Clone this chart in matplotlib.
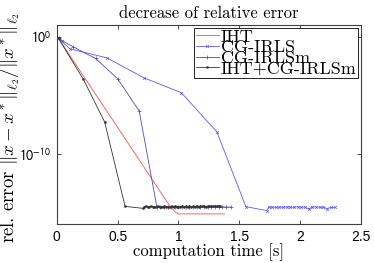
import matplotlib
matplotlib.use("Agg")
import matplotlib.pyplot as plt
import numpy as np
from matplotlib.ticker import NullLocator

plt.rcParams["font.family"] = "cmr10"
plt.rcParams["mathtext.fontset"] = "cm"
plt.rcParams["axes.formatter.use_mathtext"] = True

# IHT (no markers)
iht_t = [0.014, 0.916, 0.947, 0.97, 1.0, 1.38]
iht_log = [-0.15, -14.26, -14.66, -14.94, -15.13, -15.13]

# CG-IRLS
irls_t = [0.014, 0.039, 0.107, 0.41, 0.72, 1.023, 1.316, 1.554, 1.724, 1.743,
          1.77, 1.80, 1.83, 1.86, 1.89, 1.92, 1.95, 1.98, 2.01, 2.04, 2.07,
          2.10, 2.13, 2.16, 2.19, 2.22, 2.25, 2.29]
irls_log = [-0.15, -0.38, -1.04, -1.80, -3.53, -4.78, -8.13, -14.51, -14.85, -14.57,
            -14.55, -14.56, -14.54, -14.57, -14.53, -14.55, -14.56, -14.52, -14.56, -14.55, -14.72,
            -14.54, -14.53, -14.56, -14.55, -14.68, -14.58, -14.57]

# CG-IRLSm
irlsm_t = [0.014, 0.134, 0.319, 0.5, 0.677, 0.823,
           0.85, 0.88, 0.91, 0.94, 0.97, 1.0, 1.03, 1.06, 1.09, 1.12, 1.15,
           1.18, 1.21, 1.24, 1.27, 1.30, 1.33, 1.36, 1.39, 1.43]
irlsm_log = [-0.15, -0.87, -1.86, -3.59, -6.34, -14.57,
             -14.55, -14.53, -14.56, -14.52, -14.55, -14.54, -14.57, -14.53, -14.55, -14.54, -14.56,
             -14.53, -14.55, -14.54, -14.56, -14.53, -14.55, -14.54, -14.55, -14.55]

# IHT+CG-IRLSm
hyb_t = [0.014, 0.217, 0.393, 0.561, 0.712, 0.72, 0.735, 0.75, 0.76, 0.775, 0.79,
         0.80, 0.815, 0.83, 0.845, 0.86, 0.87, 0.885, 0.90, 0.915, 0.93, 0.945,
         0.96, 0.975, 0.99, 1.0, 1.015, 1.03, 1.045, 1.06, 1.075, 1.09, 1.105,
         1.12, 1.135, 1.15, 1.165, 1.18, 1.195, 1.21, 1.225, 1.24, 1.255, 1.27,
         1.285, 1.30, 1.315, 1.33, 1.345]
hyb_log = [-0.15, -3.62, -7.28, -14.49, -14.66, -14.50, -14.45, -14.58, -14.52, -14.47, -14.55,
           -14.50, -14.57, -14.48, -14.53, -14.51, -14.56, -14.47, -14.54, -14.50, -14.58, -14.49,
           -14.53, -14.47, -14.55, -14.50, -14.52, -14.46, -14.54, -14.49, -14.51, -14.47, -14.53,
           -14.48, -14.50, -14.46, -14.52, -14.47, -14.49, -14.45, -14.50, -14.47, -14.48, -14.46,
           -14.49, -14.45, -14.47, -14.46, -14.48]

x_ticks = [0, 0.5, 1, 1.5, 2, 2.5]
x_labels = ["0", "0.5", "1", "1.5", "2", "2.5"]
y_ticks = [1e-10, 1e0]
y_labels = [r"$10^{-10}$", r"$10^{0}$"]

fig = plt.figure(figsize=(3.74, 2.63), dpi=100)
ax = fig.add_axes([0.152, 0.148, 0.813, 0.757])

lw = 0.6
ax.semilogy(iht_t, 10.0 ** np.array(iht_log), color=(1.0, 0.3, 0.3), lw=lw, label="IHT")
ax.semilogy(irls_t, 10.0 ** np.array(irls_log), color=(0.35, 0.35, 1.0), lw=lw,
            marker="x", ms=2, mew=0.5, label="CG-IRLS")
ax.semilogy(irlsm_t, 10.0 ** np.array(irlsm_log), color=(0.3, 0.3, 0.7), lw=lw,
            marker="+", ms=2.5, mew=0.5, label="CG-IRLSm")
ax.semilogy(hyb_t, 10.0 ** np.array(hyb_log), color=(0.2, 0.2, 0.2), lw=lw,
            marker=".", ms=3, mew=0.3, label="IHT+CG-IRLSm")

ax.set_xlim(0, 2.5)
ax.set_ylim(1e-16, 1e1)
ax.set_xticks(x_ticks, labels=x_labels, fontfamily="Liberation Sans", fontsize=10)
ax.set_yticks(y_ticks, labels=y_labels, fontsize=10, math_fontfamily="stixsans")
ax.yaxis.set_minor_locator(NullLocator())
ax.tick_params(direction="in", length=3, width=0.5, top=True, right=True, pad=4)
for s in ax.spines.values():
    s.set_linewidth(0.8)
    s.set_color((0.25, 0.25, 0.25))

ax.set_title("decrease of relative error", fontsize=12, pad=5)
ax.set_xlabel("computation time [s]", fontsize=12, labelpad=0)
ax.set_ylabel(r"rel. error $\|x-x^*\|_{\ell_2}/\|x^*\|_{\ell_2}$", fontsize=13.5)
ax.yaxis.set_label_coords(-0.115, 0.485)

leg = ax.legend(loc="upper right", fontsize=13, frameon=True, fancybox=False,
                borderpad=0.08, labelspacing=-0.28, handlelength=1.3, handletextpad=0.1,
                borderaxespad=0.15, framealpha=1)
leg.get_frame().set_edgecolor("black")
leg.get_frame().set_linewidth(0.6)

fig.savefig("out.png", dpi=100)
